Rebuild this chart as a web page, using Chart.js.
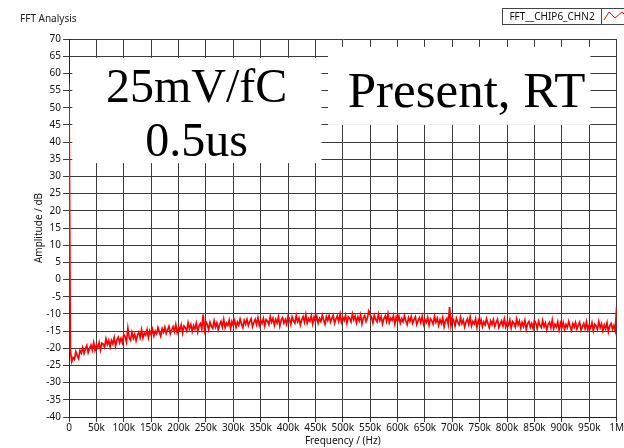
<!DOCTYPE html>
<html>
<head>
<meta charset="utf-8">
<script src="https://cdn.jsdelivr.net/npm/chart.js@4.4.1/dist/chart.umd.min.js"></script>
<style>
  html, body { margin: 0; padding: 0; background: #fff; }
</style>
</head>
<body>
<canvas id="fft" width="624" height="448"></canvas>
<script>
// FFT 스펙트럼: CHIP6 CHN2, 25mV/fC, 0.5us shaping, 상온
const binStepHz = 2500;               // FFT bin 간격
const xTicksHz = [0, 50e3, 100e3, 150e3, 200e3, 250e3, 300e3, 350e3, 400e3, 450e3, 500e3,
                  550e3, 600e3, 650e3, 700e3, 750e3, 800e3, 850e3, 900e3, 950e3, 1e6];
const yTicksDb = [-40, -35, -30, -25, -20, -15, -10, -5, 0, 5, 10, 15, 20, 25, 30, 35, 40, 45, 50, 55, 60, 65, 70];
const seriesName = 'FFT__CHIP6_CHN2';

// 진폭(dB), 0 Hz 부터 binStepHz 간격 (한 줄 = 50 kHz)
const amplitudeDb = [
  57.5,
  -20.6, -23.9, -22.7, -23.2, -21.0, -22.1, -23.0, -20.6, -21.4, -19.8, -21.5, -20.2, -19.2, -21.3, -20.1, -19.1, -20.5, -18.4, -20.6, -19.1,
  -19.9, -18.3, -20.5, -18.5, -18.8, -19.7, -17.3, -18.9, -17.7, -19.6, -17.7, -18.7, -16.9, -19.4, -17.6, -16.8, -18.4, -17.1, -18.4, -16.0,
  -16.7, -18.2, -14.2, -17.0, -17.7, -15.4, -17.1, -15.9, -17.8, -16.2, -15.3, -16.9, -14.6, -17.0, -15.6, -16.2, -14.6, -16.9, -14.9, -16.1,
  -14.5, -16.4, -15.0, -15.8, -14.0, -15.3, -16.5, -14.3, -15.3, -13.9, -15.7, -14.6, -13.6, -15.8, -14.7, -13.7, -15.2, -13.1, -15.4, -13.9,
  -14.8, -13.2, -15.5, -13.5, -14.0, -15.0, -12.6, -14.3, -13.1, -15.1, -13.4, -14.4, -12.7, -15.2, -13.5, -12.8, -14.4, -10.2, -14.6, -12.3,
  -13.1, -14.6, -12.4, -13.6, -14.2, -12.0, -13.8, -12.6, -14.6, -13.1, -12.2, -13.8, -11.6, -14.0, -12.7, -13.4, -11.8, -14.2, -12.2, -13.4,
  -11.9, -13.9, -12.4, -13.3, -11.5, -12.9, -14.0, -11.9, -13.0, -11.6, -13.4, -12.3, -11.4, -13.7, -12.5, -11.6, -13.1, -11.1, -13.3, -11.9,
  -12.8, -11.3, -13.5, -11.6, -12.1, -13.1, -10.8, -12.4, -11.3, -13.3, -11.6, -12.6, -10.9, -13.5, -11.8, -11.1, -12.7, -11.6, -13.0, -10.7,
  -11.5, -13.1, -10.9, -12.0, -12.7, -10.5, -12.3, -11.2, -13.2, -11.7, -10.8, -12.4, -10.2, -12.7, -11.4, -12.1, -10.5, -12.9, -10.9, -12.2,
  -10.7, -12.7, -11.3, -12.2, -10.4, -11.8, -13.0, -10.8, -11.9, -10.5, -12.4, -11.3, -10.4, -12.7, -11.5, -10.6, -12.1, -10.1, -12.4, -11.0,
  -11.9, -10.4, -12.7, -10.8, -11.3, -12.3, -10.0, -11.7, -10.6, -12.6, -10.9, -12.0, -10.3, -12.9, -11.2, -10.5, -12.2, -11.1,  -9.2, -10.2,
  -11.0, -12.6, -10.4, -11.6, -12.3, -10.1, -11.9, -10.8, -12.9, -11.4, -10.6, -12.2, -10.0, -12.5, -11.2, -11.9, -10.5, -12.9, -10.9, -12.2,
  -10.7, -12.7, -11.4, -12.3, -10.5, -11.9, -13.1, -11.1, -12.2, -10.8, -12.7, -11.6, -10.8, -13.1, -12.0, -11.1, -12.6, -10.7, -13.0, -11.6,
  -12.5, -11.0, -13.3, -11.4, -12.0, -13.0, -10.7, -12.4, -11.3, -13.3, -11.7, -12.8, -11.1, -13.7, -12.0, -11.3, -13.1,  -8.0, -13.4, -11.1,
  -11.9, -13.5, -11.3, -12.5, -13.2, -11.0, -12.8, -11.8, -13.8, -12.3, -11.5, -13.1, -10.9, -13.5, -12.2, -12.9, -11.4, -13.9, -11.9, -13.2,
  -11.7, -13.7, -12.3, -13.2, -11.4, -12.8, -14.0, -12.0, -13.1, -11.7, -13.6, -12.5, -11.6, -13.9, -12.9, -12.0, -13.5, -11.5, -13.8, -12.4,
  -13.3, -11.8, -14.1, -12.2, -12.7, -13.8, -11.5, -13.2, -12.1, -14.1, -12.5, -13.6, -11.9, -14.5, -12.8, -12.2, -13.9, -12.8, -14.2, -11.9,
  -12.7, -14.3, -12.1, -13.3, -14.0, -11.9, -13.7, -12.6, -14.6, -13.1, -12.4, -14.0, -11.8, -14.3, -13.0, -13.8, -12.3, -14.7, -12.7, -14.0,
  -12.5, -14.5, -13.1, -14.0, -12.2, -13.6, -14.8, -12.8, -13.9, -12.5, -14.4, -13.3, -12.4, -14.7, -13.7, -12.8, -14.3, -12.3, -14.6, -13.2,
  -14.1, -12.6, -14.9, -13.0, -13.5, -14.5, -12.2, -14.0, -12.9, -14.9, -13.2, -14.3, -12.6, -15.2, -13.5, -12.8, -14.5, -13.4, -14.9,
  -8.0,
];

const points = amplitudeDb.map((db, i) => ({ x: i * binStepHz, y: db }));

// 플롯 위 흰 바탕 주석 (데이터 좌표)
const NOTES = [
  { box: [6e3, 461e3, 64.5, 33.9], size: 48,
    lines: [{ text: '25mV/fC', x: 233e3, y: 51.7 }, { text: '0.5us', x: 233e3, y: 35.9 }] },
  { box: [473e3, 952e3, 67.7, 45.0], size: 51,
    lines: [{ text: 'Present, RT', x: 726e3, y: 50.2 }] },
];

const UI_FONT = "'Noto Sans', 'Open Sans', sans-serif";
const GRID = '#3c3c3c';

const overlay = {
  id: 'overlay',
  beforeDatasetsDraw(chart) {
    const { ctx, scales: { x, y } } = chart;
    ctx.save();
    NOTES.forEach(n => {
      const [x0, x1, y0, y1] = n.box;
      const px0 = x.getPixelForValue(x0), px1 = x.getPixelForValue(x1);
      const py0 = y.getPixelForValue(y0), py1 = y.getPixelForValue(y1);
      ctx.fillStyle = '#fff';
      ctx.fillRect(px0, py0, px1 - px0, py1 - py0);
      ctx.fillStyle = '#000';
      ctx.font = `${n.size}px 'Liberation Serif', 'DejaVu Serif', serif`;
      ctx.textAlign = 'center';
      ctx.textBaseline = 'alphabetic';
      n.lines.forEach(l => ctx.fillText(l.text, x.getPixelForValue(l.x), y.getPixelForValue(l.y)));
    });
    ctx.restore();
  },
  afterDraw(chart) {
    const { ctx } = chart;
    ctx.save();
    // 그래프 제목
    ctx.fillStyle = '#222';
    ctx.font = `10px ${UI_FONT}`;
    ctx.textAlign = 'left';
    ctx.textBaseline = 'middle';
    ctx.fillText('FFT Analysis', 20, 19);
    // 범례 박스
    ctx.fillStyle = '#fff';
    ctx.fillRect(502.5, 8.5, 99, 16);
    ctx.strokeStyle = '#444';
    ctx.lineWidth = 1;
    ctx.strokeRect(502.5, 8.5, 99, 16);
    ctx.strokeRect(601.5, 8.5, 30, 16);
    ctx.fillStyle = '#111';
    ctx.textAlign = 'center';
    ctx.fillText(seriesName, 552, 17);
    ctx.strokeStyle = '#ff0000';
    ctx.beginPath();
    ctx.moveTo(604, 20); ctx.lineTo(609, 12); ctx.lineTo(615, 18); ctx.lineTo(622, 12); ctx.lineTo(626, 16);
    ctx.stroke();
    ctx.restore();
  },
};

new Chart(document.getElementById('fft').getContext('2d'), {
  type: 'line',
  data: {
    datasets: [{
      label: seriesName,
      data: points,
      borderColor: '#ff0000',
      borderWidth: 1.7,
      pointRadius: 0,
      tension: 0,
      fill: false,
    }],
  },
  options: {
    responsive: false,
    animation: false,
    layout: { padding: { top: 39, right: 7, left: 0, bottom: 0 } },
    plugins: { legend: { display: false }, tooltip: { enabled: false } },
    scales: {
      x: {
        type: 'linear', min: 0, max: 1e6,
        afterBuildTicks: s => { s.ticks = xTicksHz.map(v => ({ value: v })); },
        afterFit: s => { s.height = 31; },
        ticks: {
          color: '#111', padding: 0, maxRotation: 0, autoSkip: false,
          font: { family: UI_FONT, size: 10 },
          callback: v => v === 0 ? '0' : v >= 1e6 ? '1M' : (v / 1000) + 'k',
        },
        grid: { color: GRID, lineWidth: 1, tickLength: 5 },
        border: { color: '#222' },
        title: { display: true, text: 'Frequency / (Hz)', color: '#111',
                 font: { family: UI_FONT, size: 10 }, padding: { top: 0, bottom: 1 } },
      },
      y: {
        type: 'linear', min: -40, max: 70,
        afterBuildTicks: s => { s.ticks = yTicksDb.map(v => ({ value: v })); },
        afterFit: s => { s.width = 69; },
        ticks: { color: '#111', padding: 2, autoSkip: false, font: { family: UI_FONT, size: 10 } },
        grid: { color: GRID, lineWidth: 1, tickLength: 6 },
        border: { color: '#222' },
        title: { display: true, text: 'Amplitude / dB', color: '#111',
                 font: { family: UI_FONT, size: 10 }, padding: { top: 33, bottom: 0 } },
      },
    },
  },
  plugins: [overlay],
});
</script>
</body>
</html>
